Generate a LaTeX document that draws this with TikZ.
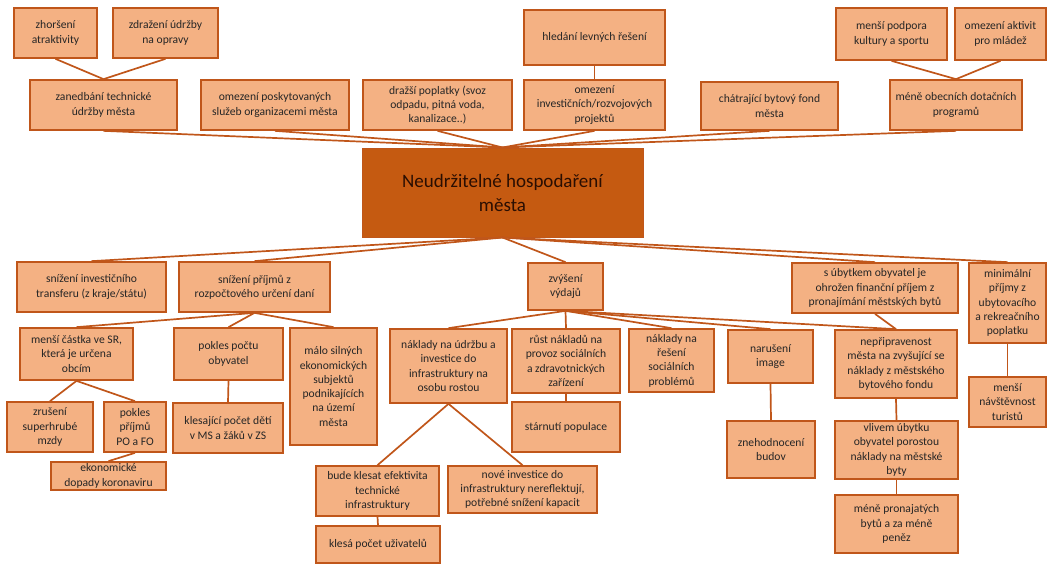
\documentclass[tikz,border=0pt]{standalone}
\usepackage{fontspec}
\setmainfont{Carlito}
\definecolor{boxfill}{HTML}{F4B183}
\definecolor{edge}{HTML}{C0561A}
\definecolor{mainfill}{HTML}{C55A11}
\definecolor{txt}{HTML}{262626}
\definecolor{maintxt}{HTML}{2A0E02}
\tikzset{
  box/.style={draw=edge,fill=boxfill,line width=1.7pt,inner sep=1pt,align=center,
    text=txt,font=\fontsize{11.6}{14.3}\selectfont},
  mainbox/.style={draw=edge,fill=mainfill,line width=1pt,inner sep=1pt,align=center,
    text=maintxt,font=\fontsize{19}{24}\selectfont},
  link/.style={draw=edge,line width=1.7pt}
}
\newcommand\bx[7][box]{\node[#1,minimum width={(#5)-(#3)},minimum height={(#6)-(#4)}] (#2) at ({((#3)+(#5))/2},{((#4)+(#6))/2}) {#7};}
\begin{document}
\begin{tikzpicture}[x=1pt,y=-1pt]
\useasboundingbox (0,0) rectangle (1054,565);
% top
\bx{z1}{14}{8}{97}{58}{zhoršení\\atraktivity}
\bx{z2}{113}{8}{218}{58}{zdražení údržby\\na opravy}
\bx{t1}{30}{80}{177}{130}{zanedbání technické\\údržby města}
\bx{t2}{201}{80}{349}{130}{omezení poskytovaných\\služeb organizacemi města}
\bx{t3}{363}{80}{512}{130}{dražší poplatky (svoz\\odpadu, pitná voda,\\kanalizace..)}
\bx{h}{524}{10}{665}{65}{hledání levných řešení}
\bx{t4}{524}{80}{665}{130}{omezení\\investičních/rozvojových\\projektů}
\bx{t5}{701}{82}{838}{130}{chátrající bytový fond\\města}
\bx{t6}{890}{80}{1022}{130}{méně obecních dotačních\\programů}
\bx{m1}{836}{8}{947}{60}{menší podpora\\kultury a sportu}
\bx{m2}{955}{8}{1046}{60}{omezení aktivit\\pro mládež}
\bx[mainbox]{C}{362}{148}{643}{237}{Neudržitelné hospodaření\\města}
% second row
\bx{b1}{17}{262}{166}{312}{snížení investičního\\transferu (z kraje/státu)}
\bx{b2}{179}{262}{330}{312}{snížení příjmů z\\rozpočtového určení daní}
\bx{b3}{528}{263}{603}{310}{zvýšení\\výdajů}
\bx{b4}{792}{263}{958}{313}{s úbytkem obyvatel je\\ohrožen finanční příjem z\\pronajímání městských bytů}
\bx{b5}{969}{263}{1046}{343}{minimální\\příjmy z\\ubytovacího\\a rekreačního\\poplatku}
% third row
\bx{c1}{20}{328}{133}{380}{menší částka ve SR,\\která je určena\\obcím}
\bx{c2}{174}{328}{283}{380}{pokles počtu\\obyvatel}
\bx{c3}{290}{328}{377}{445}{málo silných\\ekonomických\\subjektů\\podnikajících\\na území\\města}
\bx{c4}{390}{329}{507}{403}{náklady na údržbu a\\investice do\\infrastruktury na\\osobu rostou}
\bx{c5}{512}{329}{620}{393}{růst nákladů na\\provoz sociálních\\a zdravotnických\\zařízení}
\bx{c6}{629}{329}{714}{392}{náklady na\\řešení\\sociálních\\problémů}
\bx{c7}{728}{330}{813}{383}{narušení\\image}
\bx{c8}{835}{330}{957}{398}{nepřipravenost\\města na zvyšující se\\náklady z městského\\bytového fondu}
\bx{c9}{969}{377}{1046}{427}{menší\\návštěvnost\\turistů}
% fourth row
\bx{d1}{7}{402}{93}{452}{zrušení\\superhrubé\\mzdy}
\bx{d2}{104}{402}{166}{452}{pokles\\příjmů\\PO a FO}
\bx{d3}{173}{403}{283}{453}{klesající počet dětí\\v MS a žáků v ZS}
\bx{d4}{51}{462}{166}{490}{ekonomické\\dopady koronaviru}
\bx{d5}{512}{402}{620}{452}{stárnutí populace}
\bx{d6}{316}{466}{439}{516}{bude klesat efektivita\\technické\\infrastruktury}
\bx{d7}{448}{466}{597}{513}{nové investice do\\infrastruktury nereflektují,\\potřebné snížení kapacit}
\bx{d8}{316}{526}{440}{563}{klesá počet uživatelů}
\bx{d9}{727}{421}{815}{478}{znehodnocení\\budov}
\bx{d10}{835}{421}{958}{479}{vlivem úbytku\\obyvatel porostou\\náklady na městské\\byty}
\bx{d11}{835}{495}{958}{553}{méně pronajatých\\bytů a za méně\\peněz}
% connectors
\foreach \n in {t1,t2,t3,t4,t5,t6} \draw[link] (\n.south) -- (C.north);
\foreach \n in {z1,z2} \draw[link] (\n.south) -- (t1.north);
\foreach \n in {m1,m2} \draw[link] (\n.south) -- (t6.north);
\draw[link] (h.south) -- (t4.north);
\foreach \n in {b1,b2,b3,b4,b5} \draw[link] (C.south) -- (\n.north);
\foreach \n in {c1,c2,c3} \draw[link] (b2.south) -- (\n.north);
\foreach \n in {d1,d2} \draw[link] (c1.south) -- (\n.north);
\draw[link] (d2.south) -- (d4.north);
\draw[link] (c2.south) -- (d3.north);
\foreach \n in {c4,c5,c6,c7,c8} \draw[link] (b3.south) -- (\n.north);
\draw[link] (b4.south) -- (c8.north);
\draw[link] (c5.south) -- (d5.north);
\foreach \n in {d6,d7} \draw[link] (c4.south) -- (\n.north);
\draw[link] (d6.south) -- (d8.north);
\draw[link] (c7.south) -- (d9.north);
\draw[link] (c8.south) -- (d10.north);
\draw[link] (d10.south) -- (d11.north);
\draw[link] (b5.south) -- (c9.north);
\end{tikzpicture}
\end{document}
